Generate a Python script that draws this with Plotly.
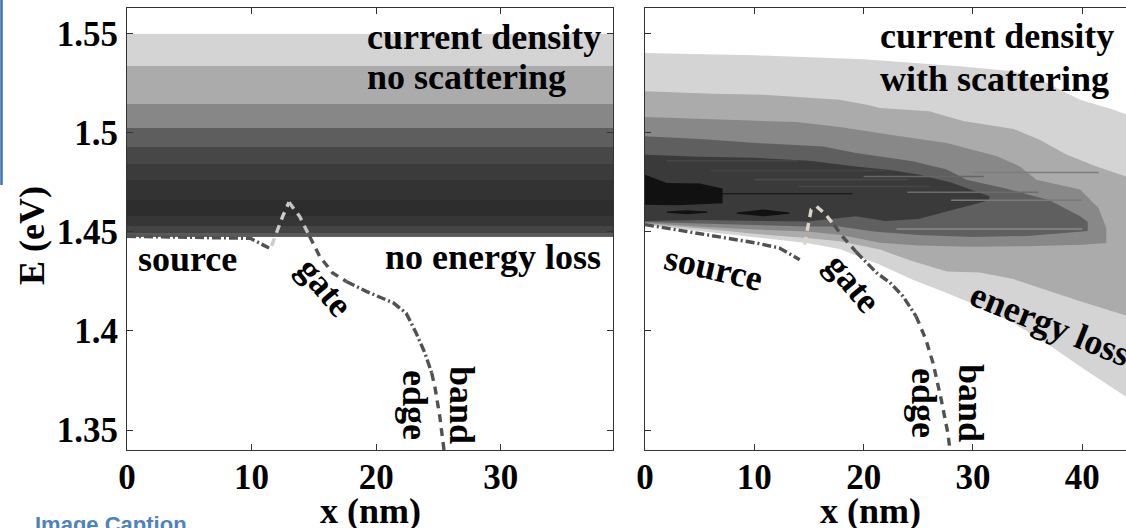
import plotly.graph_objects as go

# ---------------- data ----------------
# left panel: current density bands (no scattering), energy edges bottom->top
LEFT_E_EDGES = [1.4475, 1.4495, 1.4528, 1.4579, 1.4663, 1.4761, 1.4845, 1.4929,
                1.5025, 1.5148, 1.5336, 1.55]
LEFT_BAND_COLORS = ['#5a5a5a', '#444444', '#363636', '#2d2d2d', '#333333', '#3b3b3b',
                    '#474747', '#5e5e5e', '#878787', '#ababab', '#d4d4d4']
LEFT_X_EDGES = [0, 39]

# right panel: contour levels (with scattering): top / bottom boundaries
R1_COLOR = '#d4d4d4'
R1_TOP_X = [0, 10, 20, 25, 29, 33.7, 36.7, 39.8, 42.8, 44.5]
R1_TOP_E = [1.5404, 1.5392, 1.5372, 1.5350, 1.5336, 1.5311, 1.5253, 1.5168, 1.5118, 1.5085]
R1_BOT_X = [0, 5.6, 10.2, 14.8, 17.8, 21.5, 24.5, 27.6, 30.6, 33.7, 36.7, 39.8, 44.5]
R1_BOT_E = [1.4535, 1.4500, 1.4472, 1.4444, 1.4414, 1.4335, 1.4259, 1.4192, 1.4124, 1.404,
            1.3939, 1.3821, 1.365]

R2_COLOR = '#ababab'
R2_TOP_X = [0, 6.2, 10.8, 17.8, 20.3, 21.5, 26, 29.1, 33.7, 36.1, 38.6, 41.3, 44.5]
R2_TOP_E = [1.521, 1.5198, 1.5193, 1.5168, 1.5143, 1.5126, 1.5109, 1.506, 1.502, 1.4966,
            1.489, 1.4831, 1.477]
R2_BOT_X = [0, 5.6, 10.2, 14.8, 17.8, 21.5, 24.5, 27.6, 30.6, 33.7, 36.7, 39.8, 44.5]
R2_BOT_E = [1.4540, 1.4515, 1.4490, 1.447, 1.4453, 1.4411, 1.4352, 1.4301, 1.4295, 1.4262,
            1.4205, 1.4150, 1.4070]

R3_COLOR = '#888888'
R3_TOP_X = [0, 7.75, 13.85, 17.8, 20.3, 22.4, 27.6, 32.2, 34.3, 35.8, 39.8, 41.5, 42.2]
R3_TOP_E = [1.5081, 1.5068, 1.5055, 1.503, 1.5008, 1.4991, 1.4949, 1.4882, 1.4831, 1.4764,
            1.4714, 1.462, 1.452]
R3_BOT_X = [0, 5.6, 10.2, 14.8, 17.8, 21.5, 25, 30, 35, 40, 42.2]
R3_BOT_E = [1.4545, 1.4525, 1.4512, 1.4503, 1.4486, 1.4445, 1.4432, 1.4425, 1.4428, 1.4435,
            1.4444]

R4_COLOR = '#5f5f5f'
R4_TOP_X = [0, 5, 10.2, 16.3, 19.3, 22.4, 24.5, 27.6, 29.4, 33, 37, 39.8, 40.5]
R4_TOP_E = [1.4983, 1.497, 1.4949, 1.4932, 1.4899, 1.4874, 1.4857, 1.4815, 1.4764, 1.472,
            1.466, 1.4579, 1.455]
R4_BOT_X = [0, 7.75, 14.8, 17.8, 20.9, 25, 30, 35, 40.5]
R4_BOT_E = [1.4550, 1.4538, 1.4528, 1.4528, 1.4503, 1.4485, 1.4475, 1.448, 1.4505]

R5_COLOR = '#3a3a3a'
R5_TOP_X = [0, 5, 10, 15, 19.3, 22.4, 25, 28, 30, 31.5]
R5_TOP_E = [1.489, 1.488, 1.4875, 1.486, 1.4831, 1.4813, 1.479, 1.475, 1.471, 1.468]
R5_BOT_X = [0, 5, 10, 14.8, 19.3, 22, 25, 28, 31.5]
R5_BOT_E = [1.4555, 1.456, 1.4558, 1.4553, 1.4579, 1.4555, 1.4565, 1.461, 1.466]

R6_COLOR = '#111111'
R6_TOP_X = [0, 2, 5, 7.1]
R6_TOP_E = [1.4789, 1.4747, 1.4745, 1.472]
R6_BOT_X = [0, 3, 7.1]
R6_BOT_E = [1.4638, 1.4635, 1.4645]
R6B_TOP_X = [8.4, 10.8, 13.2]
R6B_TOP_E = [1.4598, 1.4613, 1.4598]
R6B_BOT_X = [8.4, 10.8, 13.2]
R6B_BOT_E = [1.4592, 1.4579, 1.4592]
R6C_TOP_X = [2.0, 3.8, 5.7]
R6C_TOP_E = [1.4603, 1.4610, 1.4603]
R6C_BOT_X = [2.0, 3.8, 5.7]
R6C_BOT_E = [1.4597, 1.4590, 1.4597]
STREAK_X = [0, 19]
STREAK_E = [1.4693, 1.4693]

# subtle horizontal streaks inside the scattering map: x start, x end, E, colour
STREAK_X0 = [2.0, 6.0, 10.0, 14.0, 20.0, 24.0, 28.0, 23.0, 30.0]
STREAK_X1 = [14.0, 22.0, 24.0, 26.0, 31.0, 36.0, 40.0, 40.0, 41.5]
STREAK_E0 = [1.4860, 1.4810, 1.4765, 1.4730, 1.4780, 1.4700, 1.4660, 1.4515, 1.4800]
STREAK_COL = ['#474747', '#444444', '#4b4b4b', '#474747', '#666666', '#6c6c6c',
              '#7a7a7a', '#8a8a8a', '#7e7e7e']

# band edge (left panel)
L_SRC_X = [0, 9.9, 11.4]
L_SRC_E = [1.4478, 1.4468, 1.4419]
L_RISE_X = [11.6, 12.5, 13.0]
L_RISE_E = [1.4430, 1.4580, 1.4650]
L_TOP_X = [13.0, 13.85, 14.65]
L_TOP_E = [1.4650, 1.4579, 1.4478]
L_GATE_X = [14.65, 15.46, 16.5, 17.6]
L_GATE_E = [1.4478, 1.4377, 1.4293, 1.4250]
L_DRN_X = [17.6, 19.2, 21.4, 22.4, 23.2, 23.9, 24.45]
L_DRN_E = [1.4250, 1.4200, 1.4141, 1.4090, 1.3990, 1.3890, 1.3788]
L_END_X = [24.45, 24.7, 25.1, 25.5]
L_END_E = [1.3788, 1.3720, 1.3569, 1.3367]

# band edge (right panel)
R_SRC_X = [0, 5.6, 10.2, 12.3, 14.15]
R_SRC_E = [1.4537, 1.4486, 1.4444, 1.4419, 1.4360]
R_RISE_X = [14.6, 15.2, 15.7]
R_RISE_E = [1.4436, 1.4613, 1.4629]
R_TOP_X = [15.7, 16.5, 17.3]
R_TOP_E = [1.4629, 1.4590, 1.4535]
R_GATE_X = [17.3, 18.1, 19.0, 19.3]
R_GATE_E = [1.4535, 1.4475, 1.4420, 1.4400]
R_DRN_X = [19.3, 20.0, 21.2, 22.4, 23.6, 24.8]
R_DRN_E = [1.4400, 1.4360, 1.4293, 1.4245, 1.4175, 1.4074]
R_END_X = [24.8, 25.7, 26.35, 27.1, 27.7, 27.9]
R_END_E = [1.4074, 1.3956, 1.3838, 1.3653, 1.3485, 1.3400]

Y_TICKS = [1.35, 1.4, 1.45, 1.5, 1.55]
Y_TICKTEXT = ['1.35', '1.4', '1.45', '1.5', '1.55']
X1_TICKS = [0, 10, 20, 30]
X2_TICKS = [0, 10, 20, 30, 40]
X1_RANGE = [0, 39]
X2_RANGE = [0, 44]
Y_RANGE = [1.3399, 1.5631]

# ---------------- figure ----------------
SERIF = 'Liberation Serif'
W, H = 1126, 528
ML, MR, MT, MB = 127, 0, 8, 78
PW, PH = W - ML - MR, H - MT - MB


def pxx(p):
    return (p - ML) / PW


def pyy(p):
    return (H - MB - p) / PH


fig = go.Figure()

n = len(LEFT_BAND_COLORS)
cscale = [[i / (n - 1), c] for i, c in enumerate(LEFT_BAND_COLORS)]
fig.add_trace(go.Heatmap(
    z=[[i] for i in range(n)], x=LEFT_X_EDGES, y=LEFT_E_EDGES,
    colorscale=cscale, zmin=0, zmax=n - 1, showscale=False, hoverinfo='skip',
    xaxis='x', yaxis='y'))


def poly(tx, te, bx, be, color):
    fig.add_trace(go.Scatter(
        x=list(tx) + list(bx)[::-1], y=list(te) + list(be)[::-1],
        fill='toself', fillcolor=color, mode='lines', line=dict(width=0),
        hoverinfo='skip', showlegend=False, xaxis='x2', yaxis='y2'))


poly(R1_TOP_X, R1_TOP_E, R1_BOT_X, R1_BOT_E, R1_COLOR)
poly(R2_TOP_X, R2_TOP_E, R2_BOT_X, R2_BOT_E, R2_COLOR)
poly(R3_TOP_X, R3_TOP_E, R3_BOT_X, R3_BOT_E, R3_COLOR)
poly(R4_TOP_X, R4_TOP_E, R4_BOT_X, R4_BOT_E, R4_COLOR)
poly(R5_TOP_X, R5_TOP_E, R5_BOT_X, R5_BOT_E, R5_COLOR)

for x0, x1, e0, c in zip(STREAK_X0, STREAK_X1, STREAK_E0, STREAK_COL):
    fig.add_trace(go.Scatter(x=[x0, x1], y=[e0, e0], mode='lines',
                             line=dict(color=c, width=1.5), hoverinfo='skip',
                             showlegend=False, xaxis='x2', yaxis='y2'))

poly(R6_TOP_X, R6_TOP_E, R6_BOT_X, R6_BOT_E, R6_COLOR)
poly(R6B_TOP_X, R6B_TOP_E, R6B_BOT_X, R6B_BOT_E, R6_COLOR)
poly(R6C_TOP_X, R6C_TOP_E, R6C_BOT_X, R6C_BOT_E, R6_COLOR)
fig.add_trace(go.Scatter(x=STREAK_X, y=STREAK_E, mode='lines',
                         line=dict(color='#111111', width=1), hoverinfo='skip',
                         showlegend=False, xaxis='x2', yaxis='y2'))

DASH = '8px,6px'
DASHDOT = '9px,3px,2px,3px'
DARK = '#515151'


def seg(x, e, color, dash, ax):
    fig.add_trace(go.Scatter(
        x=x, y=e, mode='lines', line=dict(color=color, width=3.4, dash=dash),
        hoverinfo='skip', showlegend=False,
        xaxis='x' if ax == 1 else 'x2', yaxis='y' if ax == 1 else 'y2'))


seg(L_SRC_X, L_SRC_E, DARK, DASHDOT, 1)
seg(L_RISE_X, L_RISE_E, '#cccccc', DASH, 1)
seg(L_TOP_X, L_TOP_E, '#c4c4c4', DASH, 1)
seg(L_GATE_X, L_GATE_E, DARK, DASH, 1)
seg(L_DRN_X, L_DRN_E, DARK, DASHDOT, 1)
seg(L_END_X, L_END_E, DARK, DASH, 1)

seg(R_SRC_X, R_SRC_E, DARK, DASHDOT, 2)
seg(R_RISE_X, R_RISE_E, '#dcd5c6', DASH, 2)
seg(R_TOP_X, R_TOP_E, '#dcd5c6', DASH, 2)
seg(R_GATE_X, R_GATE_E, DARK, DASH, 2)
seg(R_DRN_X, R_DRN_E, DARK, DASHDOT, 2)
seg(R_END_X, R_END_E, DARK, DASH, 2)

tickfont = dict(family=SERIF, size=35, color='black', weight='bold')
axcommon = dict(ticks='inside', ticklen=6, tickcolor='#333', showline=True,
                linecolor='#333', linewidth=1, showgrid=False, zeroline=False,
                tickfont=tickfont)

fig.update_layout(
    margin=dict(l=ML, r=MR, t=MT, b=MB),
    plot_bgcolor='white', paper_bgcolor='white', showlegend=False,
    xaxis=dict(domain=[0, pxx(613)], range=X1_RANGE, tickvals=X1_TICKS,
               mirror='allticks', anchor='y', ticklabelstandoff=-4, **axcommon),
    yaxis=dict(domain=[0, 1], range=Y_RANGE, tickvals=Y_TICKS, ticktext=Y_TICKTEXT,
               mirror='allticks', anchor='x', ticklabelstandoff=1, **axcommon),
    xaxis2=dict(domain=[pxx(645), 1], range=X2_RANGE, tickvals=X2_TICKS,
                mirror='allticks', anchor='y2', ticklabelstandoff=-4, **axcommon),
    yaxis2=dict(domain=[0, 1], range=Y_RANGE, tickvals=Y_TICKS, matches='y',
                showticklabels=False, anchor='x2', **axcommon),
)

afont = dict(family=SERIF, size=36, color='black', weight='bold')


def ann(text, xp, yp, angle=0, xanchor='center', yanchor='middle', font=afont, align='center'):
    fig.add_annotation(text=text, x=pxx(xp), y=pyy(yp), xref='paper', yref='paper',
                       showarrow=False, textangle=angle, xanchor=xanchor,
                       yanchor=yanchor, font=font, align=align)


ann('current density', 365, 37, xanchor='left')
ann('no scattering', 365, 77, xanchor='left')
ann('no energy loss', 603, 257, xanchor='right')
ann('source', 136, 259, xanchor='left')
ann('gate', 325, 287, angle=50)
ann('band<br>edge', 439, 405, angle=90)

ann('current density', 878, 36, xanchor='left')
ann('with scattering', 878, 79, xanchor='left')
ann('source', 713, 268, angle=13)
ann('gate', 853, 283, angle=50)
ann('energy loss', 1050, 324, angle=22)
ann('band<br>edge', 948, 403, angle=90)

ann('x (nm)', 370, 511)
ann('x (nm)', 870, 511)
ann('E (eV)', 32, 236, angle=-90)

ann('Image Caption', 33, 510, xanchor='left', yanchor='top',
    font=dict(family='Liberation Sans', size=22, color='#4f81bd', weight='bold'))

fig.add_shape(type='line', xref='paper', yref='paper', x0=pxx(1.5), x1=pxx(1.5),
              y0=pyy(0), y1=pyy(185), line=dict(color='#3e72b8', width=2.5))

fig.write_html('out.html')
